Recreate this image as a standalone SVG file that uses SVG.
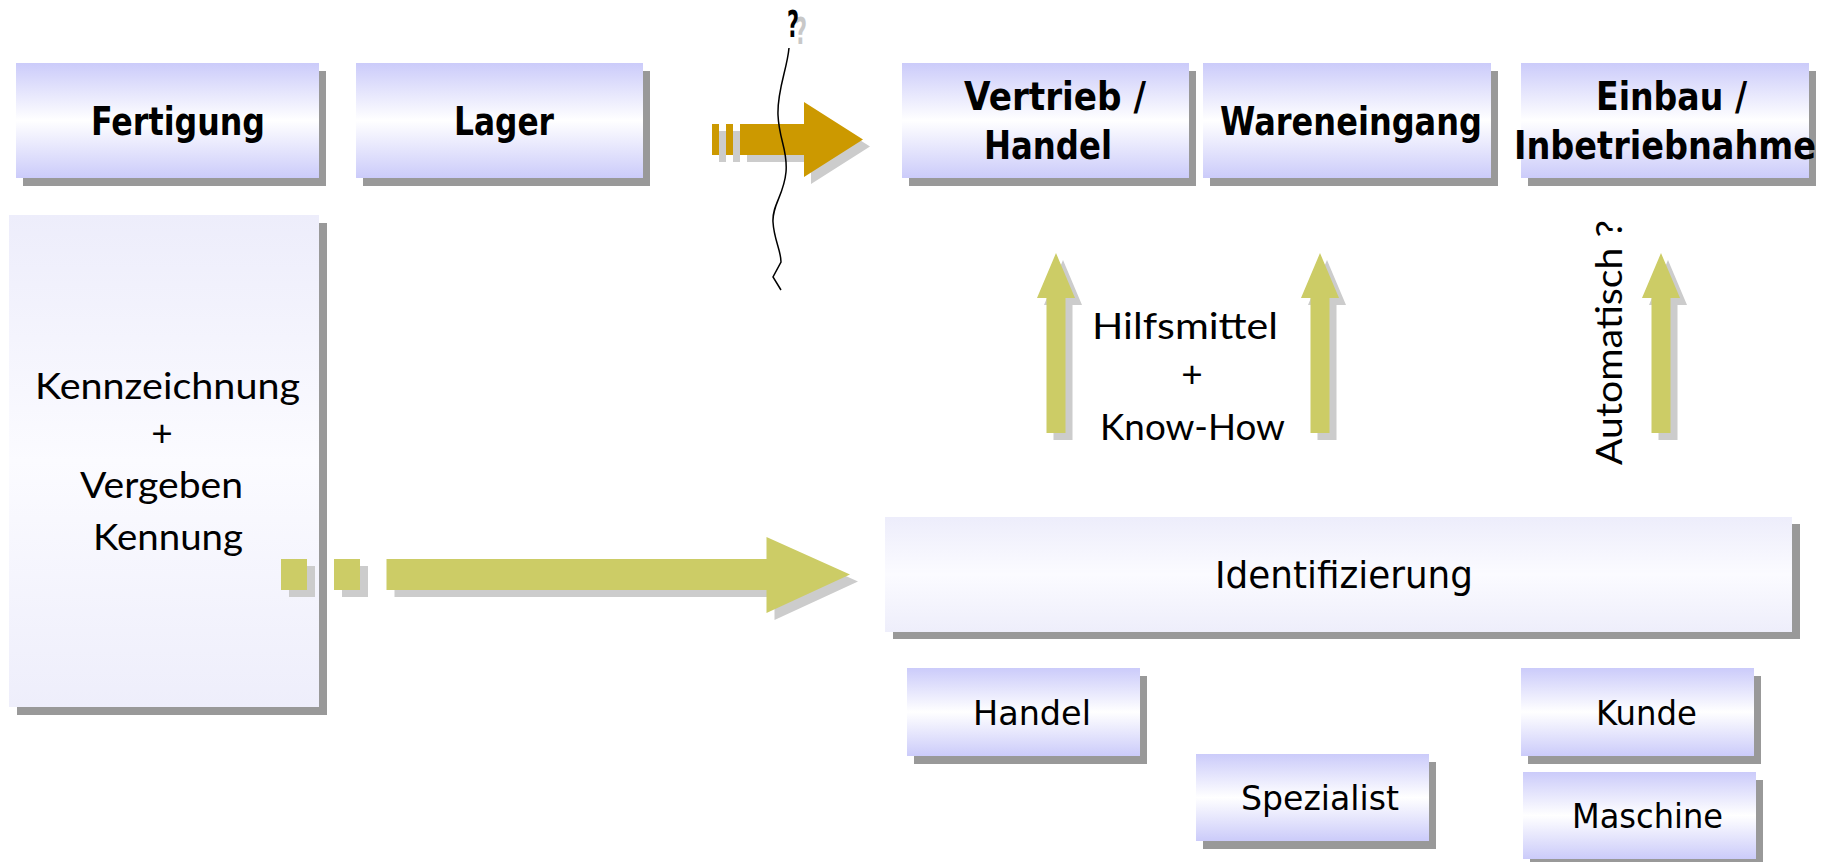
<svg xmlns="http://www.w3.org/2000/svg" width="1824" height="862" viewBox="0 0 1824 862">
<defs>
<linearGradient id="gA" x1="0" y1="0" x2="0" y2="1">
<stop offset="0" stop-color="#CBCBFA"/>
<stop offset="0.5" stop-color="#FFFFFF"/>
<stop offset="1" stop-color="#CBCBFA"/>
</linearGradient>
<linearGradient id="gB" x1="0" y1="0" x2="0" y2="1">
<stop offset="0" stop-color="#EDEDFB"/>
<stop offset="0.5" stop-color="#FBFBFF"/>
<stop offset="1" stop-color="#EEEEFB"/>
</linearGradient>
<path id="upArrow" d="M0,0 L19,45 L9.5,45 L9.5,180 L-9.5,180 L-9.5,45 L-19,45 Z"/>
</defs>
<style>
.sh{fill:#999999}
.bA{fill:url(#gA)}
.bB{fill:url(#gB)}
.tb{font-family:"DejaVu Sans","Liberation Sans",sans-serif;font-weight:bold;font-size:39px;fill:#000}
.tc{font-family:"DejaVu Sans","Liberation Sans",sans-serif;font-size:33px;fill:#000}
.tl{font-family:Lato,"DejaVu Sans",sans-serif;font-size:37px;fill:#000}
.ash{fill:#CCCCCC}
.ag{fill:#CCCC66}
.ao{fill:#CC9900}
</style>
<rect width="1824" height="862" fill="#FFFFFF"/>

<g id="node-fertigung">
<rect class="sh" x="23" y="71" width="303" height="115"/>
<rect class="bA" x="16" y="63" width="303" height="115"/>
<text class="tb" x="91" y="135" textLength="174" lengthAdjust="spacingAndGlyphs">Fertigung</text>
</g>
<g id="node-lager">
<rect class="sh" x="363" y="71" width="287" height="115"/>
<rect class="bA" x="356" y="63" width="287" height="115"/>
<text class="tb" x="454" y="135" textLength="100" lengthAdjust="spacingAndGlyphs">Lager</text>
</g>
<g id="node-vertrieb">
<rect class="sh" x="909" y="71" width="287" height="115"/>
<rect class="bA" x="902" y="63" width="287" height="115"/>
<text class="tb" x="964" y="110" textLength="182" lengthAdjust="spacingAndGlyphs">Vertrieb /</text>
<text class="tb" x="984" y="159" textLength="128" lengthAdjust="spacingAndGlyphs">Handel</text>
</g>
<g id="node-wareneingang">
<rect class="sh" x="1210" y="71" width="288" height="115"/>
<rect class="bA" x="1203" y="63" width="288" height="115"/>
<text class="tb" x="1220" y="135" textLength="262" lengthAdjust="spacingAndGlyphs">Wareneingang</text>
</g>
<g id="node-einbau">
<rect class="sh" x="1528" y="71" width="288" height="115"/>
<rect class="bA" x="1521" y="63" width="288" height="115"/>
<text class="tb" x="1596" y="110" textLength="151" lengthAdjust="spacingAndGlyphs">Einbau /</text>
<text class="tb" x="1514" y="159" textLength="302" lengthAdjust="spacingAndGlyphs">Inbetriebnahme</text>
</g>
<g id="node-kennzeichnung">
<rect class="sh" x="17" y="223" width="310" height="492"/>
<rect class="bB" x="9" y="215" width="310" height="492"/>
<text class="tl" x="35" y="399" textLength="265" lengthAdjust="spacingAndGlyphs">Kennzeichnung</text>
<text class="tl" x="162" y="446" text-anchor="middle">+</text>
<text class="tl" x="80" y="498" textLength="163" lengthAdjust="spacingAndGlyphs">Vergeben</text>
<text class="tl" x="93" y="550" textLength="150" lengthAdjust="spacingAndGlyphs">Kennung</text>
</g>
<g id="node-identifizierung">
<rect class="sh" x="893" y="524" width="907" height="115"/>
<rect class="bB" x="885" y="517" width="907" height="115"/>
<text class="tc" style="font-size:38px" x="1215" y="588" textLength="258" lengthAdjust="spacingAndGlyphs">Identifizierung</text>
</g>
<g id="node-handel">
<rect class="sh" x="914" y="676" width="233" height="88"/>
<rect class="bA" x="907" y="668" width="233" height="88"/>
<text class="tc" x="973" y="725" textLength="118" lengthAdjust="spacingAndGlyphs">Handel</text>
</g>
<g id="node-spezialist">
<rect class="sh" x="1203" y="762" width="233" height="87"/>
<rect class="bA" x="1196" y="754" width="233" height="87"/>
<text class="tc" x="1241" y="810" textLength="158" lengthAdjust="spacingAndGlyphs">Spezialist</text>
</g>
<g id="node-kunde">
<rect class="sh" x="1528" y="676" width="233" height="88"/>
<rect class="bA" x="1521" y="668" width="233" height="88"/>
<text class="tc" x="1596" y="725" textLength="101" lengthAdjust="spacingAndGlyphs">Kunde</text>
</g>
<g id="node-maschine">
<rect class="sh" x="1530" y="780" width="233" height="87"/>
<rect class="bA" x="1523" y="772" width="233" height="87"/>
<text class="tc" x="1572" y="828" textLength="151" lengthAdjust="spacingAndGlyphs">Maschine</text>
</g>

<g id="connectors">
<!-- orange arrow (Lager -> Vertrieb) -->
<g transform="translate(7,7)" class="ash">
<rect x="712" y="124" width="7" height="31"/>
<rect x="726" y="124" width="7" height="31"/>
<path d="M740,124 L804,124 L804,102 L863,139.5 L804,177 L804,155 L740,155 Z"/>
</g>
<g class="ao">
<rect x="712" y="124" width="7" height="31"/>
<rect x="726" y="124" width="7" height="31"/>
<path d="M740,124 L804,124 L804,102 L863,139.5 L804,177 L804,155 L740,155 Z"/>
</g>
<path d="M789,48 C787,70 777,90 778,115 C779,140 788,150 786,172 C784,195 772,205 773,222 C774,240 781,250 781,262 L773,277 L781,290" fill="none" stroke="#000" stroke-width="1.5"/>
<text x="795" y="44" font-family="'DejaVu Sans',sans-serif" font-weight="bold" font-size="38" fill="#C8C8C8" textLength="12" lengthAdjust="spacingAndGlyphs">?</text>
<text x="787" y="37" font-family="'DejaVu Sans',sans-serif" font-weight="bold" font-size="38" fill="#000" textLength="12" lengthAdjust="spacingAndGlyphs">?</text>

<!-- green arrow (Kennzeichnung -> Identifizierung) -->
<g transform="translate(8,7)" class="ash">
<rect x="281" y="559" width="26" height="31"/>
<rect x="334" y="559" width="26" height="31"/>
<path d="M386.5,559 L766.5,559 L766.5,537 L850,574.5 L766.5,613 L766.5,590 L386.5,590 Z"/>
</g>
<g class="ag">
<rect x="281" y="559" width="26" height="31"/>
<rect x="334" y="559" width="26" height="31"/>
<path d="M386.5,559 L766.5,559 L766.5,537 L850,574.5 L766.5,613 L766.5,590 L386.5,590 Z"/>
</g>

<!-- up arrows -->
<use href="#upArrow" class="ash" transform="translate(1063,260)"/>
<use href="#upArrow" class="ag" transform="translate(1056,253)"/>
<use href="#upArrow" class="ash" transform="translate(1327,260)"/>
<use href="#upArrow" class="ag" transform="translate(1320,253)"/>
<use href="#upArrow" class="ash" transform="translate(1668,260)"/>
<use href="#upArrow" class="ag" transform="translate(1661,253)"/>

<text class="tl" x="1092" y="339" textLength="186" lengthAdjust="spacingAndGlyphs">Hilfsmittel</text>
<text class="tl" x="1192" y="387" text-anchor="middle">+</text>
<text class="tl" x="1100" y="440" textLength="185" lengthAdjust="spacingAndGlyphs">Know-How</text>
<text class="tl" transform="translate(1622,465) rotate(-90)" x="0" y="0" textLength="245" lengthAdjust="spacingAndGlyphs">Automatisch ?</text>
</g>
</svg>
